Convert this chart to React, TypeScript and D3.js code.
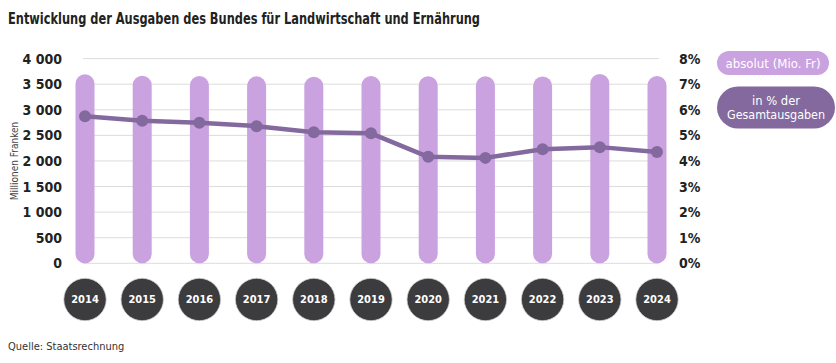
import React from 'react'
import * as d3 from 'd3'

const years = ['2014', '2015', '2016', '2017', '2018', '2019', '2020', '2021', '2022', '2023', '2024']
// Ausgaben absolut, Mio. Fr
const absolut = [3693, 3667, 3661, 3653, 3645, 3662, 3656, 3655, 3652, 3700, 3662]
// Anteil an den Gesamtausgaben, %
const anteil = [5.75, 5.57, 5.49, 5.36, 5.12, 5.08, 4.16, 4.12, 4.46, 4.54, 4.35]
const leftTicks = [0, 500, 1000, 1500, 2000, 2500, 3000, 3500, 4000]
const rightTicks = [0, 1, 2, 3, 4, 5, 6, 7, 8]

const font = '"DejaVu Sans Condensed", "DejaVu Sans", sans-serif'
const barColor = '#cba2e0'
const lineColor = '#83699e'
const badgeColor = '#3c3b3e'

const fmt = (v: number) => d3.format(',')(v).replace(/,/g, ' ')

function App () {
  const width = 836
  const height = 363

  const x = d3.scalePoint<string>().domain(years).range([85, 657])
  const yL = d3.scaleLinear().domain([0, 4000]).range([263.3, 58.6])
  const yR = d3.scaleLinear().domain([0, 8]).range([263.3, 58.6])
  const barW = 19

  const line = d3.line<number>()
    .x((d, i) => x(years[i]) as number)
    .y(d => yR(d))

  const gx0 = (x(years[0]) as number) - 2
  const gx1 = (x(years[years.length - 1]) as number) + 2

  return (
    <svg width={width} height={height} style={{ position: 'absolute', left: 0, top: 0 }} fontFamily={font}>
      <rect width={width} height={height} fill='#fff' />
      <text x={8} y={24} fontSize={15} fontWeight='bold' fill='#222' textLength={472} lengthAdjust='spacingAndGlyphs'>
        Entwicklung der Ausgaben des Bundes für Landwirtschaft und Ernährung
      </text>

      {/* Gitterlinien */}
      {leftTicks.map(t => (
        <line key={t} x1={gx0} x2={gx1} y1={yL(t)} y2={yL(t)} stroke='#dcdcdc' strokeWidth={1} />
      ))}

      {/* linke Achse */}
      {leftTicks.map(t => (
        <text key={t} x={62} y={yL(t)} dy='0.36em' textAnchor='end' fontSize={14} fontWeight='bold' fill='#222'>
          {fmt(t)}
        </text>
      ))}
      <text transform={`translate(18,${(yL(0) + yL(4000)) / 2}) rotate(-90)`} textAnchor='middle' fontSize={10} fill='#444'>
        Millionen Franken
      </text>

      {/* rechte Achse */}
      {rightTicks.map(t => (
        <text key={t} x={679} y={yR(t)} dy='0.36em' textAnchor='start' fontSize={14} fontWeight='bold' fill='#222'>
          {t}%
        </text>
      ))}

      {/* Balken */}
      {absolut.map((v, i) => (
        <rect
          key={years[i]}
          x={(x(years[i]) as number) - barW / 2}
          y={yL(v)}
          width={barW}
          height={yL(0) - yL(v)}
          rx={barW / 2}
          fill={barColor}
        />
      ))}

      {/* Linie */}
      <path d={line(anteil) || ''} fill='none' stroke={lineColor} strokeWidth={4.5} strokeLinejoin='round' />
      {anteil.map((v, i) => (
        <circle key={years[i]} cx={x(years[i])} cy={yR(v)} r={6} fill={lineColor} />
      ))}

      {/* Jahre */}
      {years.map(yr => (
        <g key={yr} transform={`translate(${x(yr)},299.5)`}>
          <circle r={21.2} fill={badgeColor} stroke='#cfcfcf' strokeWidth={0.8} />
          <text dy='0.36em' textAnchor='middle' fontSize={11} fontWeight='bold' fill='#fff'>{yr}</text>
        </g>
      ))}

      {/* Legende */}
      <rect x={717} y={51} width={112} height={24} rx={12} fill={barColor} />
      <text x={773} y={63} dy='0.36em' textAnchor='middle' fontSize={13} fill='#fff' textLength={95} lengthAdjust='spacingAndGlyphs'>absolut (Mio. Fr)</text>
      <rect x={717} y={86.5} width={118} height={42} rx={21} fill={lineColor} />
      <text x={776} y={100.5} dy='0.36em' textAnchor='middle' fontSize={13} fill='#fff' textLength={48} lengthAdjust='spacingAndGlyphs'>in % der</text>
      <text x={776} y={114} dy='0.36em' textAnchor='middle' fontSize={13} fill='#fff' textLength={98} lengthAdjust='spacingAndGlyphs'>Gesamtausgaben</text>

      <text x={8} y={350} fontSize={11} fill='#333'>Quelle: Staatsrechnung</text>
    </svg>
  )
}

export default App
